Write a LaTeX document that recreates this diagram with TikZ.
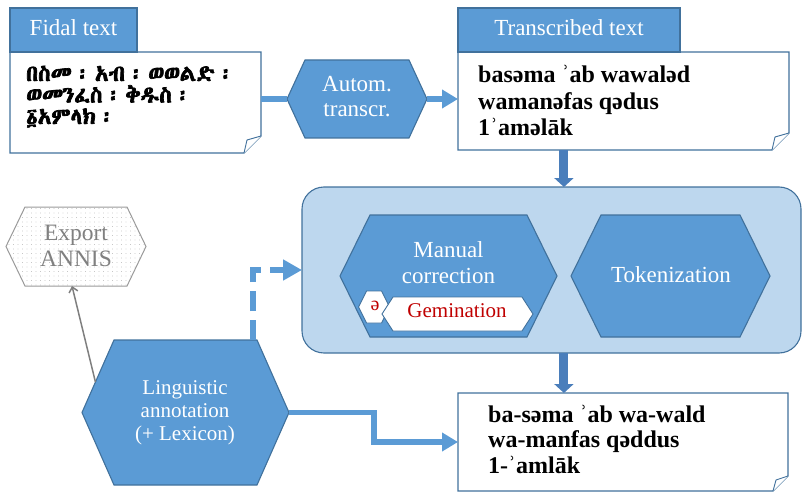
\documentclass[tikz,border=0pt]{standalone}
\usepackage{fontspec}
\setmainfont{Liberation Serif}
\newfontfamily\dejavu{DejaVu Serif}
\IfFontExistsTF{Abyssinica SIL}{\newfontfamily\ethfont{Abyssinica SIL}[WordSpace=0.5, AutoFakeBold=3]}{\newfontfamily\ethfont{DejaVu Sans}}
\usetikzlibrary{arrows.meta,patterns.meta,calc}

\definecolor{hexblue}{HTML}{5B9BD5}
\definecolor{hexborder}{HTML}{41719C}
\definecolor{panelfill}{HTML}{BDD7EE}
\definecolor{blockarrow}{HTML}{4A7EBB}
\definecolor{annisline}{HTML}{9A9A9A}
\definecolor{annisdots}{HTML}{A8A8A8}
\definecolor{annistext}{HTML}{808080}
\definecolor{grayline}{HTML}{7F7F7F}
\definecolor{gemred}{HTML}{C00000}

\newcommand\hr{\iffontchar\font"02BE ʾ\else{\dejavu ʾ}\fi}
\newcommand\sw{\iffontchar\font"0259 ə\else{\dejavu ə}\fi}
\newcommand\llines[2]{\vtop{\lineskiplimit=-100pt\lineskip=0pt\baselineskip=#1\halign{##\hfil\cr#2\crcr}}}
\newcommand\clines[2]{\vtop{\lineskiplimit=-100pt\lineskip=0pt\baselineskip=#1\halign{\hfil##\hfil\cr#2\crcr}}}
% hexagon outline: style, cx, cy, half width, half height, inset
\newcommand\hexat[6]{\path[#1] ({#2-#4},{#3}) -- ({#2-#4+#6},{#3-#5}) -- ({#2+#4-#6},{#3-#5}) -- ({#2+#4},{#3}) -- ({#2+#4-#6},{#3+#5}) -- ({#2-#4+#6},{#3+#5}) -- cycle;}
% named hexagon: name, style, cx, cy, hw, hh, inset
\newcommand\hexnode[7]{\hexat{#2}{#3}{#4}{#5}{#6}{#7}\node[anchorbox, minimum width={2*#5}, minimum height={2*#6}] (#1) at (#3,#4) {};}

\begin{document}
\begin{tikzpicture}[x=1pt,y=-1pt,
  anchorbox/.style={inner sep=0pt, outer sep=0pt, draw=none},
  hexfill/.style={fill=hexblue, draw=hexborder, line width=1.1pt},
  whitehex/.style={fill=white, draw=hexborder, line width=0.9pt},
  annishex/.style={draw=annisline, line width=1pt, preaction={fill=white}, pattern={Dots[distance=4.5pt,radius=0.45pt]}, pattern color=annisdots},
  tabbox/.style={fill=hexblue, draw=hexborder, line width=1.1pt, text=white, inner sep=0pt, text height=15.7pt, text depth=4.3pt, font=\fontsize{23}{27}\selectfont},
  notebox/.style={fill=white, draw=hexborder, line width=1.1pt},
  hextext/.style={text=white, inner sep=0pt, anchor=base},
  conn/.style={draw=hexblue, line width=5.5pt},
  connarrow/.style={conn, -{Triangle[length=16pt,width=18pt]}},
  dashconn/.style={conn, line width=6pt, dash pattern=on 20pt off 9pt, -{Triangle[length=19pt,width=20pt]}},
  blockarr/.style={draw=blockarrow, line width=9pt, -{Triangle[length=9pt,width=19pt]}},
  grayarr/.style={draw=grayline, line width=1.5pt, -{Straight Barb[length=5pt,width=9pt]}},
]
\useasboundingbox (0,0) rectangle (803,492);

% panel
\node[anchorbox, fill=panelfill, draw=hexborder, line width=1.1pt, rounded corners=22pt, minimum width=499, minimum height=166] (panel) at (551.5,270) {};

% hexagons
\hexnode{manual}{hexfill}{448.5}{276}{108.5}{61}{30}
\hexnode{schwa}{whitehex}{374}{307}{15.5}{16}{8}
\hexnode{gemin}{whitehex}{457.5}{314}{75.5}{17}{11}
\hexnode{token}{hexfill}{670.5}{276}{99.5}{61}{30}
\hexnode{autom}{hexfill}{357}{99}{70}{39}{18}
\hexnode{export}{annishex}{76}{246.5}{70}{39.5}{19}
\hexnode{ling}{hexfill}{185.5}{412.5}{103.5}{72.5}{32}

% note boxes with folded corner
\node[anchorbox, minimum width=251, minimum height=101] (fidal) at (135.5,102.5) {};
\draw[notebox] (fidal.north west) -- (fidal.north east) -- ([yshift=17pt]fidal.south east) -- ([xshift=-17pt]fidal.south east) -- (fidal.south west) -- cycle;
\draw[notebox, line width=0.9pt] ([xshift=-17pt]fidal.south east) -- ([xshift=-14pt,yshift=13pt]fidal.south east) -- ([yshift=17pt]fidal.south east);

\node[anchorbox, minimum width=331, minimum height=98] (transbox) at (623.5,101) {};
\draw[notebox] (transbox.north west) -- (transbox.north east) -- ([yshift=17pt]transbox.south east) -- ([xshift=-17pt]transbox.south east) -- (transbox.south west) -- cycle;
\draw[notebox, line width=0.9pt] ([xshift=-17pt]transbox.south east) -- ([xshift=-14pt,yshift=13pt]transbox.south east) -- ([yshift=17pt]transbox.south east);

\node[anchorbox, minimum width=330, minimum height=98] (finalbox) at (623,442) {};
\draw[notebox] (finalbox.north west) -- (finalbox.north east) -- ([yshift=15pt]finalbox.south east) -- ([xshift=-15pt]finalbox.south east) -- (finalbox.south west) -- cycle;
\draw[notebox, line width=0.9pt] ([xshift=-15pt]finalbox.south east) -- ([xshift=-12pt,yshift=11pt]finalbox.south east) -- ([yshift=15pt]finalbox.south east);

% tabs
\node[tabbox, minimum width=127, minimum height=44] (fidaltab) at (73.5,30) {Fidal text};
\node[tabbox, minimum width=222, minimum height=44] (transtab) at (569,30) {Transcribed text};

% texts
\node[anchor=base west, inner sep=0pt, font={\ethfont\fontsize{22.5}{21.5}\selectfont\bfseries}] (fidaltxt) at (26,81) {\llines{21.5pt}{በስመ ፡ አብ ፡ ወወልድ ፡\cr ወመንፈስ ፡ ቅዱስ ፡\cr ፩አምላክ ፡}};
\node[anchor=base west, inner sep=0pt, font={\fontsize{24}{26.5}\selectfont\bfseries}] (transtxt) at (478,83) {\llines{26.5pt}{bas\sw ma \hr ab wawal\sw d\cr waman\sw fas q\sw dus\cr 1\hr am\sw lāk}};
\node[anchor=base west, inner sep=0pt, font={\fontsize{24}{25.5}\selectfont\bfseries}] (finaltxt) at (488,422) {\llines{25.5pt}{ba-s\sw ma \hr ab wa-wald\cr wa-manfas q\sw ddus\cr 1-\hr amlāk}};

\node[hextext, font=\fontsize{23}{25}\selectfont] (automtxt) at (357,92) {\clines{25pt}{Autom.\cr transcr.}};
\node[hextext, font=\fontsize{23}{26}\selectfont] (manualtxt) at (448.5,257) {\clines{26pt}{Manual\cr correction}};
\node[hextext, font=\fontsize{23}{26}\selectfont] (tokentxt) at (671,282) {Tokenization};
\node[hextext, text=gemred, font=\fontsize{21}{24}\selectfont] (gemintxt) at (457,317) {Gemination};
\node[hextext, text=gemred, font=\fontsize{20}{24}\selectfont] (schwatxt) at (375,310) {\sw};
\node[hextext, text=annistext, font=\fontsize{23.5}{26}\selectfont] (exporttxt) at (76,240) {\clines{26pt}{Export\cr ANNIS}};
\node[hextext, font=\fontsize{21}{23}\selectfont] (lingtxt) at (185,394) {\clines{23pt}{Linguistic\cr annotation\cr (+ Lexicon)}};

% connectors
\coordinate (dropA) at ($(transbox.south west)!0.32!(transbox.south east)$);
\draw[blockarr] (dropA) -- (dropA |- panel.north);
\draw[blockarr] (dropA |- panel.south) -- (dropA |- finalbox.north);

\draw[conn] (fidal.east |- autom.west) -- (autom.west);
\draw[connarrow] (autom.east) -- (autom.east -| transbox.west);
\draw[grayarr] ($(ling.west)!0.42!([xshift=32pt]ling.north west)$) -- ([xshift=-4pt]export.south);
\draw[dashconn] ([xshift=-36pt]ling.north east) |- (panel.west);
\draw[connarrow] (ling.east) -- ++(85,0) |- (finalbox.west);
\end{tikzpicture}
\end{document}
